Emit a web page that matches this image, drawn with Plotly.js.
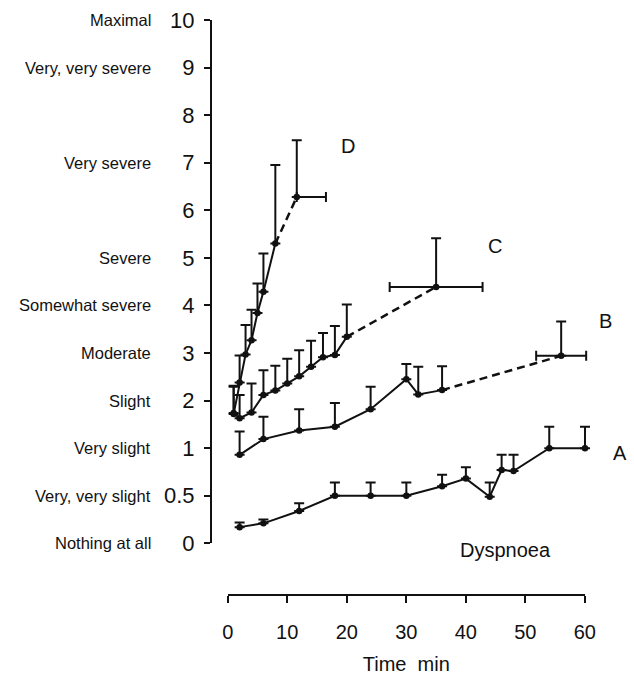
<!DOCTYPE html>
<html>
<head>
<meta charset="utf-8">
<script src="https://cdn.plot.ly/plotly-3.0.1.min.js"></script>
<style>html,body{margin:0;padding:0;background:#fff}#chart{width:634px;height:686px}</style>
</head>
<body>
<div id="chart"></div>
<script>
// Borg scale tick values and verbal descriptors
const borgTicks = [0, 0.5, 1, 2, 3, 4, 5, 6, 7, 8, 9, 10];
const borgTickText = ['0', '0.5', '1', '2', '3', '4', '5', '6', '7', '8', '9', '10'];
const borgWords = ['Nothing at all', 'Very, very slight', 'Very slight', 'Slight', 'Moderate',
  'Somewhat severe', 'Severe', '', 'Very severe', '', 'Very, very severe', 'Maximal'];
const xTicks = [0, 10, 20, 30, 40, 50, 60];

// Series A
const tA = [2, 6, 12, 18, 24, 30, 36, 40, 44, 46, 48, 54, 60];
const yA = [0.17, 0.21, 0.34, 0.5, 0.5, 0.5, 0.6, 0.68, 0.49, 0.77, 0.76, 1.0, 1.0];
const sdA = [0.05, 0.04, 0.08, 0.14, 0.14, 0.14, 0.12, 0.12, 0.15, 0.16, 0.17, 0.45, 0.45];

// Series B
const tB = [2, 6, 12, 18, 24, 30, 32, 36];
const yB = [0.93, 1.19, 1.37, 1.45, 1.82, 2.45, 2.13, 2.22];
const sdB = [0.42, 0.47, 0.45, 0.5, 0.47, 0.32, 0.58, 0.5];
const endB = {t: 56, y: 2.94, sd: 0.72, tsdPlus: 4.2, tsdMinus: 4.2};

// Series C
const tC = [1, 2, 4, 6, 8, 10, 12, 14, 16, 18, 20];
const yC = [1.74, 1.63, 1.75, 2.12, 2.21, 2.36, 2.51, 2.71, 2.91, 2.96, 3.34];
const sdC = [0.57, 0.49, 0.61, 0.52, 0.52, 0.52, 0.55, 0.55, 0.51, 0.61, 0.68];
const endC = {t: 35, y: 4.39, sd: 1.02, tsdPlus: 7.8, tsdMinus: 7.8};

// Series D
const tD = [1, 2, 3, 4, 5, 6, 8];
const yD = [1.72, 2.38, 2.97, 3.27, 3.84, 4.29, 5.30];
const sdD = [0.57, 0.57, 0.62, 0.64, 0.62, 0.80, 1.65];
const endD = {t: 11.6, y: 6.28, sd: 1.19, tsdPlus: 4.9, tsdMinus: 0};

// Borg scale is drawn with 0, 0.5 and 1 evenly spaced like the integer steps above 1
function pos(v) { return v <= 1 ? 2 * v : v + 1; }
const P = arr => arr.map(pos);
const errUp = (ys, sds) => ys.map((y, i) => pos(y + sds[i]) - pos(y));

const FONT = 'Liberation Sans, Arial, Helvetica, sans-serif';
const INK = '#111';

const traces = [];
function addMain(t, y, sd) {
  traces.push({
    x: t, y: P(y), type: 'scatter', mode: 'lines+markers', cliponaxis: false,
    line: {color: INK, width: 2},
    marker: {color: INK, size: 6.5},
    error_y: {type: 'data', symmetric: false, array: errUp(y, sd), arrayminus: y.map(() => 0),
      color: INK, thickness: 2, width: 5},
    showlegend: false
  });
}
function addEnd(t, y, end) {
  const lastT = t[t.length - 1], lastY = y[y.length - 1];
  traces.push({
    x: [lastT, end.t], y: P([lastY, end.y]), type: 'scatter', mode: 'lines', cliponaxis: false,
    line: {color: INK, width: 2.5, dash: '8px,5px'}, showlegend: false, hoverinfo: 'skip'
  });
  traces.push({
    x: [end.t], y: P([end.y]), type: 'scatter', mode: 'markers', cliponaxis: false,
    marker: {color: INK, size: 6.5},
    error_y: {type: 'data', symmetric: false, array: errUp([end.y], [end.sd]), arrayminus: [0],
      color: INK, thickness: 2, width: 5},
    error_x: {type: 'data', symmetric: false, array: [end.tsdPlus], arrayminus: [end.tsdMinus],
      color: INK, thickness: 2, width: 5},
    showlegend: false
  });
}
addMain(tA, yA, sdA);
addMain(tB, yB, sdB); addEnd(tB, yB, endB);
addMain(tC, yC, sdC); addEnd(tC, yC, endC);
addMain(tD, yD, sdD); addEnd(tD, yD, endD);
// empty trace that carries the visible time axis (0-60)
traces.push({x: [], y: [], xaxis: 'x2', yaxis: 'y', type: 'scatter', mode: 'markers', showlegend: false});

const annotations = [];
borgWords.forEach((w, i) => {
  if (!w) return;
  annotations.push({text: w, xref: 'paper', x: 0, xanchor: 'right', xshift: -59,
    yref: 'y', y: pos(borgTicks[i]), yanchor: 'middle', showarrow: false,
    font: {family: FONT, size: 16.5, color: INK}});
});
const seriesLabels = [
  {text: 'A', xref: 'paper', x: 1.0515, yref: 'y', y: 1.90},
  {text: 'B', xref: 'paper', x: 1.013, yref: 'y', y: 4.67},
  {text: 'C', xref: 'x', x: 44.9, yref: 'y', y: 6.25},
  {text: 'D', xref: 'x', x: 20.2, yref: 'y', y: 8.35},
  {text: 'Dyspnoea', xref: 'x', x: 46.7, yref: 'paper', y: 0.078}
];
seriesLabels.forEach(s => annotations.push({text: s.text, xref: s.xref, yref: s.yref, x: s.x, y: s.y,
  showarrow: false, xanchor: 'center', yanchor: 'middle', font: {family: FONT, size: 20, color: INK}}));

const layout = {
  width: 634, height: 686,
  margin: {l: 212, r: 34, t: 20, b: 91},
  paper_bgcolor: '#fff', plot_bgcolor: 'rgba(0,0,0,0)',
  font: {family: FONT, color: INK},
  showlegend: false,
  // data axis: same scale as the drawn time axis, wider so nothing is clipped
  xaxis: {domain: [0, 1], range: [-2.636, 62.52], visible: false, fixedrange: true},
  xaxis2: {
    domain: [0.0405, 0.961], range: [0, 60], anchor: 'free', position: 0,
    showline: true, linewidth: 2, linecolor: INK, showgrid: false, zeroline: false,
    ticks: 'outside', ticklen: 7, tickwidth: 2, tickcolor: INK,
    tickvals: xTicks, tickfont: {size: 20, family: FONT, color: INK}, ticklabelstandoff: 12,
    title: {text: 'Time\u00a0 min', font: {size: 20, family: FONT, color: INK}, standoff: 14}
  },
  yaxis: {
    domain: [0.0899, 1], range: [0, 11], anchor: 'x',
    showline: true, linewidth: 2, linecolor: INK, showgrid: false, zeroline: false,
    ticks: 'outside', ticklen: 6, tickwidth: 2, tickcolor: INK,
    tickvals: P(borgTicks), ticktext: borgTickText, ticklabelstandoff: 5,
    tickfont: {size: 22, family: FONT, color: INK}
  },
  annotations: annotations
};

Plotly.newPlot('chart', traces, layout, {staticPlot: true, displayModeBar: false});
</script>
</body>
</html>
